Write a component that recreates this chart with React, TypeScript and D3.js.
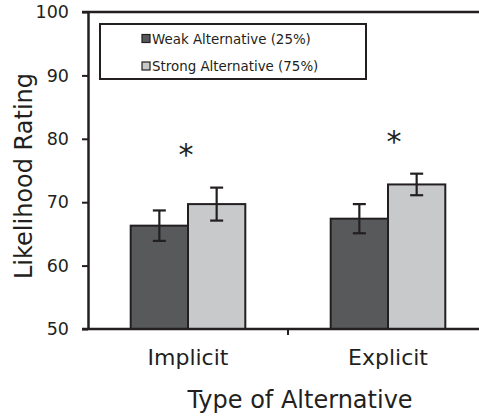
import { useEffect, useRef } from 'react';
import * as d3 from 'd3';

// chart values
const categories = ['Implicit', 'Explicit'];
const seriesNames = ['Weak Alternative (25%)', 'Strong Alternative (75%)'];
const weakMeans = [66.3, 67.4];
const weakErrors = [2.4, 2.3];
const strongMeans = [69.7, 72.8];
const strongErrors = [2.6, 1.7];
const asteriskLevels = [78.6, 80.6];
const yTicks = [50, 60, 70, 80, 90, 100];

const colors = ['#58595b', '#c8c9cb'];
const ink = '#231f20';
const font = "'DejaVu Sans', Verdana, sans-serif";

const App: React.FC = () => {
  const chartRef = useRef<SVGSVGElement | null>(null);

  useEffect(() => {
    if (!chartRef.current) return;
    const svg = d3.select(chartRef.current);
    svg.selectAll('*').remove();

    const W = 479;

    const y = d3.scaleLinear().domain([50, 100]).range([329, 12]);
    const x = d3.scaleBand<string>().domain(categories).range([88, 488]).padding(0);
    const xs = d3.scaleBand<string>()
      .domain(seriesNames)
      .range([0, x.bandwidth()])
      .paddingInner(0)
      .paddingOuter(0.745);

    const rows = categories.map((c, i) => ({
      cat: c,
      vals: [
        { s: seriesNames[0], mean: weakMeans[i], err: weakErrors[i], color: colors[0] },
        { s: seriesNames[1], mean: strongMeans[i], err: strongErrors[i], color: colors[1] },
      ],
    }));

    // top frame line
    svg.append('line')
      .attr('x1', 82).attr('x2', W)
      .attr('y1', y(100)).attr('y2', y(100))
      .attr('stroke', ink).attr('stroke-width', 2.5);

    // bars
    const groups = svg.selectAll('.grp')
      .data(rows)
      .enter().append('g')
      .attr('class', 'grp')
      .attr('transform', d => `translate(${x(d.cat)},0)`);

    groups.selectAll('rect')
      .data(d => d.vals)
      .enter().append('rect')
      .attr('x', d => xs(d.s)!)
      .attr('y', d => y(d.mean))
      .attr('width', xs.bandwidth())
      .attr('height', d => y(50) - y(d.mean))
      .attr('fill', d => d.color)
      .attr('stroke', ink)
      .attr('stroke-width', 2);

    // error bars
    const eb = groups.selectAll('.err')
      .data(d => d.vals)
      .enter().append('g')
      .attr('class', 'err')
      .attr('stroke', ink)
      .attr('stroke-width', 2.2);
    const cx = (d: { s: string }) => xs(d.s)! + xs.bandwidth() / 2;
    eb.append('line')
      .attr('x1', cx).attr('x2', cx)
      .attr('y1', d => y(d.mean + d.err)).attr('y2', d => y(d.mean - d.err));
    eb.append('line')
      .attr('x1', d => cx(d) - 6.5).attr('x2', d => cx(d) + 6.5)
      .attr('y1', d => y(d.mean + d.err)).attr('y2', d => y(d.mean + d.err));
    eb.append('line')
      .attr('x1', d => cx(d) - 6.5).attr('x2', d => cx(d) + 6.5)
      .attr('y1', d => y(d.mean - d.err)).attr('y2', d => y(d.mean - d.err));

    // significance stars
    svg.selectAll('.star')
      .data(categories)
      .enter().append('text')
      .attr('class', 'star')
      .attr('x', (d, i) => x(d)! + x.bandwidth() / 2 + (i === 0 ? -2 : 6))
      .attr('y', (d, i) => y(asteriskLevels[i]) + 17)
      .attr('text-anchor', 'middle')
      .attr('font-family', font)
      .attr('font-size', 30)
      .attr('fill', ink)
      .text('*');

    // y axis
    const yAxis = svg.append('g')
      .attr('transform', 'translate(88,0)')
      .call(d3.axisLeft(y).tickValues(yTicks).tickSize(6).tickPadding(13).tickSizeOuter(0));
    yAxis.select('.domain').attr('stroke', ink).attr('stroke-width', 2.5);
    yAxis.selectAll('line').attr('stroke', ink).attr('stroke-width', 2);
    yAxis.selectAll('text')
      .attr('font-family', font)
      .attr('font-size', 17.5)
      .attr('fill', ink);

    // x axis
    svg.append('line')
      .attr('x1', 82).attr('x2', W)
      .attr('y1', y(50)).attr('y2', y(50))
      .attr('stroke', ink).attr('stroke-width', 2.5);
    svg.selectAll('.xtick')
      .data(categories.slice(1))
      .enter().append('line')
      .attr('class', 'xtick')
      .attr('x1', d => x(d)!).attr('x2', d => x(d)!)
      .attr('y1', y(50)).attr('y2', y(50) + 6)
      .attr('stroke', ink).attr('stroke-width', 2);
    svg.selectAll('.xlab')
      .data(categories)
      .enter().append('text')
      .attr('class', 'xlab')
      .attr('x', d => x(d)! + x.bandwidth() / 2)
      .attr('y', 365)
      .attr('text-anchor', 'middle')
      .attr('font-family', font)
      .attr('font-size', 22)
      .attr('fill', ink)
      .text(d => d);

    // axis titles
    svg.append('text')
      .attr('x', 300)
      .attr('y', 408)
      .attr('text-anchor', 'middle')
      .attr('font-family', font)
      .attr('font-size', 24)
      .attr('fill', ink)
      .text('Type of Alternative');
    svg.append('text')
      .attr('transform', 'translate(32,176) rotate(-90)')
      .attr('text-anchor', 'middle')
      .attr('font-family', font)
      .attr('font-size', 24)
      .attr('fill', ink)
      .text('Likelihood Rating');

    // legend
    const lg = svg.append('g');
    lg.append('rect')
      .attr('x', 100).attr('y', 24)
      .attr('width', 266).attr('height', 55)
      .attr('fill', 'white')
      .attr('stroke', ink).attr('stroke-width', 2);
    const items = lg.selectAll('.item')
      .data(seriesNames)
      .enter().append('g')
      .attr('class', 'item')
      .attr('transform', (d, i) => `translate(142,${34.5 + i * 27.5})`);
    items.append('rect')
      .attr('width', 8).attr('height', 8)
      .attr('fill', (d, i) => colors[i])
      .attr('stroke', ink).attr('stroke-width', 1.2);
    items.append('text')
      .attr('x', 10).attr('y', 9)
      .attr('font-family', font)
      .attr('font-size', 13.4)
      .attr('fill', ink)
      .text(d => d);
  }, []);

  return (
    <svg
      ref={chartRef}
      width={479}
      height={416}
      style={{ position: 'absolute', left: 0, top: 0, background: 'white' }}
    ></svg>
  );
};

export default App;
